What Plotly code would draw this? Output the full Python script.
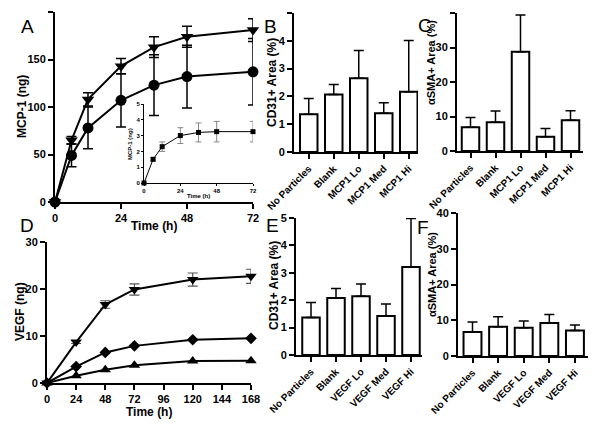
import plotly.graph_objects as go

# ---------------- data ----------------
time_a = [0, 6, 12, 24, 36, 48, 72]
mcp_tri = [0, 65, 108, 143, 163, 174, 181]
mcp_tri_err = [0, 4, 7, 8, 11, 11, 12]
mcp_circ = [0, 49, 78, 107, 123, 132, 137]
mcp_circ_err = [0, 12, 22, 28, 32, 33, 35]

inset_time = [0, 6, 12, 24, 36, 48, 72]
inset_mcp = [0, 1.5, 2.3, 3.0, 3.2, 3.25, 3.25]
inset_err = [0, 0.1, 0.3, 0.5, 0.6, 0.65, 0.65]

time_d = [0, 24, 48, 72, 120, 168]
vegf_tri = [0, 8.7, 16.7, 19.9, 22.0, 22.7]
vegf_tri_err = [0, 0.3, 0.8, 1.2, 1.4, 1.5]
vegf_dia = [0, 3.5, 6.5, 7.9, 9.2, 9.5]
vegf_up = [0, 1.55, 2.8, 3.8, 4.7, 4.75]

cats_b = ["No Particles", "Blank", "MCP1 Lo", "MCP1 Med", "MCP1 Hi"]
cd31_b = [1.36, 2.07, 2.65, 1.39, 2.17]
cd31_b_err = [0.56, 0.36, 1.0, 0.38, 1.84]
sma_c = [6.9, 8.3, 28.8, 4.1, 8.9]
sma_c_err = [2.8, 3.3, 10.6, 2.4, 2.8]

cats_e = ["No Particles", "Blank", "VEGF Lo", "VEGF Med", "VEGF Hi"]
cd31_e = [1.37, 2.08, 2.14, 1.42, 3.21]
cd31_e_err = [0.55, 0.35, 0.45, 0.44, 1.77]
sma_f = [6.7, 8.2, 7.9, 9.2, 7.1]
sma_f_err = [2.8, 2.8, 1.9, 2.4, 1.6]

# ---------------- helpers ----------------
OFF = 8  # page body margin
W, H = 600 - OFF, 426 - OFF
def px(x):
    return (x - OFF) / W
def py(y):
    return 1 - (y - OFF) / H

FONT = "Liberation Sans, Arial, Helvetica, sans-serif"

fig = go.Figure()

def axis_style(size=11, ticklen=5, lw=2):
    return dict(showline=True, linecolor="black", linewidth=lw, ticks="outside",
                ticklen=ticklen, tickwidth=lw, tickcolor="black", showgrid=False,
                zeroline=False, automargin=False,
                tickfont=dict(family=FONT, size=size, color="black", weight="bold"))

# Panel A main
fig.add_trace(go.Scatter(x=time_a, y=mcp_tri, mode="lines+markers", xaxis="x", yaxis="y",
                         line=dict(color="black", width=2),
                         marker=dict(symbol="triangle-down", size=11, color="black"),
                         error_y=dict(type="data", array=mcp_tri_err, color="black", thickness=1.5, width=5),
                         cliponaxis=False, showlegend=False))
fig.add_trace(go.Scatter(x=time_a, y=mcp_circ, mode="lines+markers", xaxis="x", yaxis="y",
                         line=dict(color="black", width=2),
                         marker=dict(symbol="circle", size=11, color="black"),
                         error_y=dict(type="data", array=mcp_circ_err, color="black", thickness=1.5, width=5),
                         cliponaxis=False, showlegend=False))
# inset
fig.add_trace(go.Scatter(x=inset_time, y=inset_mcp, mode="lines+markers", xaxis="x2", yaxis="y2",
                         line=dict(color="black", width=1),
                         marker=dict(symbol="square", size=5, color="black"),
                         error_y=dict(type="data", array=inset_err, color="#888888", thickness=1, width=3),
                         cliponaxis=False, showlegend=False))

def add_bars(cats_n, vals, errs, xa, ya):
    fig.add_trace(go.Bar(x=list(range(len(cats_n))), y=vals, xaxis=xa, yaxis=ya, width=0.7,
                         marker=dict(color="white", line=dict(color="black", width=2)),
                         error_y=dict(type="data", array=errs, arrayminus=[0]*len(errs),
                                      symmetric=False, color="black", thickness=1.5, width=5),
                         showlegend=False))

add_bars(cats_b, cd31_b, cd31_b_err, "x3", "y3")
add_bars(cats_b, sma_c, sma_c_err, "x4", "y4")

# Panel D
fig.add_trace(go.Scatter(x=time_d, y=vegf_tri, mode="lines+markers", xaxis="x5", yaxis="y5",
                         line=dict(color="black", width=2),
                         marker=dict(symbol="triangle-down", size=10, color="black"),
                         error_y=dict(type="data", array=vegf_tri_err, color="#555555", thickness=1.2, width=5),
                         cliponaxis=False, showlegend=False))
fig.add_trace(go.Scatter(x=time_d, y=vegf_dia, mode="lines+markers", xaxis="x5", yaxis="y5",
                         line=dict(color="black", width=2),
                         marker=dict(symbol="diamond", size=9, color="black"),
                         cliponaxis=False, showlegend=False))
fig.add_trace(go.Scatter(x=time_d, y=vegf_up, mode="lines+markers", xaxis="x5", yaxis="y5",
                         line=dict(color="black", width=2),
                         marker=dict(symbol="triangle-up", size=10, color="black"),
                         cliponaxis=False, showlegend=False))

add_bars(cats_e, cd31_e, cd31_e_err, "x6", "y6")
add_bars(cats_e, sma_f, sma_f_err, "x7", "y7")

cat_tick = lambda cats: dict(tickmode="array", tickvals=list(range(len(cats))),
                             ticktext=cats, tickangle=-45)

layout = dict(
    width=W, height=H, margin=dict(l=0, r=0, t=0, b=0, autoexpand=False),
    paper_bgcolor="white", plot_bgcolor="rgba(0,0,0,0)",
    bargap=0.3,
    xaxis=dict(domain=[px(55), px(253)], range=[0, 72], tickvals=[0, 24, 48, 72], anchor="y", **axis_style()),
    yaxis=dict(domain=[py(202), py(12)], range=[0, 200], tickvals=[0, 50, 100, 150, 200], anchor="x", **axis_style()),
    xaxis2=dict(domain=[px(144), px(253)], range=[0, 72], tickvals=[0, 24, 48, 72], anchor="y2",
                **axis_style(size=6, ticklen=2, lw=1)),
    yaxis2=dict(domain=[py(183), py(104)], range=[0, 5], tickvals=[0, 1, 2, 3, 4, 5], anchor="x2",
                **axis_style(size=6, ticklen=2, lw=1)),
    xaxis3=dict(domain=[px(294), px(418)], range=[-0.59, 4.37], anchor="y3",
                **cat_tick(cats_b), **axis_style(size=10)),
    yaxis3=dict(domain=[py(152), py(13)], range=[0, 5], tickvals=[0, 1, 2, 3, 4, 5], anchor="x3", **axis_style()),
    xaxis4=dict(domain=[px(457), px(583)], range=[-0.54, 4.5], anchor="y4",
                **cat_tick(cats_b), **axis_style(size=10)),
    yaxis4=dict(domain=[py(151), py(13)], range=[0, 40], tickvals=[0, 10, 20, 30, 40], anchor="x4", **axis_style()),
    xaxis5=dict(domain=[px(47), px(251)], range=[0, 168], tickvals=[0, 24, 48, 72, 96, 120, 144, 168],
                anchor="y5", **axis_style()),
    yaxis5=dict(domain=[py(383), py(242)], range=[0, 30], tickvals=[0, 10, 20, 30], anchor="x5", **axis_style()),
    xaxis6=dict(domain=[px(296), px(422)], range=[-0.6, 4.44], anchor="y6",
                **cat_tick(cats_e), **axis_style(size=10)),
    yaxis6=dict(domain=[py(355), py(218)], range=[0, 5], tickvals=[0, 1, 2, 3, 4, 5], anchor="x6", **axis_style()),
    xaxis7=dict(domain=[px(458), px(588)], range=[-0.566, 4.51], anchor="y7",
                **cat_tick(cats_e), **axis_style(size=10)),
    yaxis7=dict(domain=[py(356), py(213)], range=[0, 40], tickvals=[0, 10, 20, 30, 40], anchor="x7", **axis_style()),
)
fig.update_layout(**layout)

def ann(text, x, y, size=12, angle=0, bold=True):
    fig.add_annotation(text=text, x=px(x), y=py(y), xref="paper", yref="paper", showarrow=False,
                       textangle=angle, xanchor="center", yanchor="middle",
                       font=dict(family=FONT, size=size, color="black", weight="bold" if bold else "normal"))

# panel letters
ann("A", 27, 27, size=19, bold=False)
ann("B", 270, 27, size=19, bold=False)
ann("C", 425, 25, size=19, bold=False)
ann("D", 27, 225, size=19, bold=False)
ann("E", 272, 226, size=19, bold=False)
ann("F", 423, 227, size=19, bold=False)

# axis titles
ann("MCP-1 (ng)", 22, 107, angle=-90)
ann("Time (h)", 154, 226)
ann("MCP-1 (ng)", 130, 144, size=6, angle=-90)
ann("Time (h)", 198, 196, size=6)
ann("CD31+ Area (%)", 272, 83, angle=-90)
ann("αSMA+ Area (%)", 431, 62, size=11, angle=-90)
ann("VEGF (ng)", 20, 312, angle=-90)
ann("Time (h)", 149, 412)
ann("CD31+ Area (%)", 274, 286, angle=-90)
ann("αSMA+ Area (%)", 432, 275, size=11, angle=-90)

fig.write_html("out.html")
